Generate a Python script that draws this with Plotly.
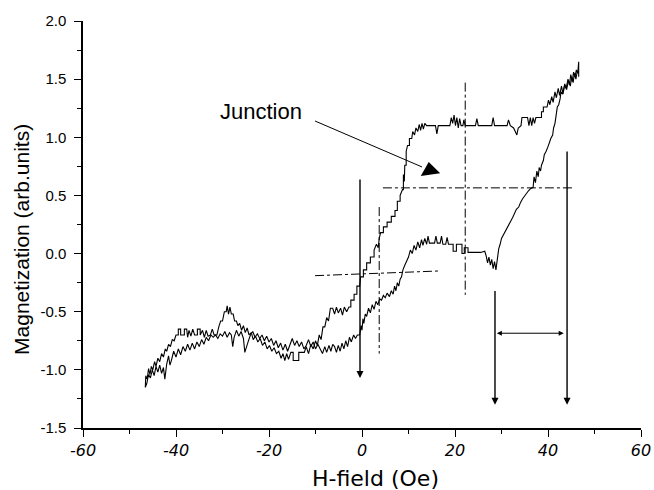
import plotly.graph_objects as go

# ---- ascending branch (field increasing) ----
H_up = [-46.6, -46.5, -46.2, -45.9, -45.6, -45.3, -45.0, -44.6, -44.3, -43.9, -43.5, -43.1, -42.7, -42.3,
        -42.0, -41.6, -41.2, -40.8, -40.4, -40.0, -39.5, -39.5, -39.0, -39.0, -38.2, -38.2, -37.7, -37.5,
        -37.2, -36.8, -36.4, -36.0, -35.4, -35.4, -34.8, -34.8, -34.3, -33.9, -33.5, -33.1, -32.6, -32.2,
        -31.8, -31.2, -30.8, -30.4, -30.0, -29.6, -29.2, -29.0, -28.7, -28.4, -28.1, -27.7, -27.4, -27.0,
        -26.7, -26.3, -25.9, -25.5, -25.1, -24.7, -24.3, -23.8, -23.4, -22.9, -22.4, -21.9, -21.4, -20.9,
        -20.4, -19.9, -19.4, -18.9, -18.4, -17.9, -17.4, -17.0, -16.6, -16.2, -15.8, -15.3, -14.8, -14.8,
        -13.6, -13.6, -12.4, -12.0, -11.5, -11.0, -10.5, -10.0, -9.6, -9.2, -8.8, -8.4, -8.0, -7.6, -7.2,
        -6.8, -6.3, -5.9, -5.5, -5.1, -4.6, -4.2, -3.8, -3.3, -2.8, -2.4, -2.4, -1.7, -1.7, -1.1, -1.1,
        -0.5, -0.3, 0.3, 0.3, 1.0, 1.0, 1.8, 1.8, 2.6, 2.6, 3.1, 3.5, 3.7, 4.0, 4.6, 4.6, 5.4, 5.4, 6.3,
        6.3, 7.1, 7.1, 7.6, 7.6, 8.2, 8.2, 8.7, 8.9, 8.9, 9.1, 9.2, 9.5, 9.5, 9.8, 10.2, 10.2, 10.7, 10.9,
        11.3, 11.6, 12.0, 12.3, 12.6, 12.9, 13.2, 13.5, 13.9, 15.8, 16.1, 16.4, 18.9, 19.2, 19.5, 19.8,
        20.1, 20.4, 20.7, 21.0, 21.3, 21.7, 21.9, 22.2, 24.4, 24.7, 25.0, 27.9, 28.2, 28.5, 31.2, 31.5,
        31.9, 32.6, 33.3, 33.6, 34.2, 34.4, 35.6, 35.9, 36.2, 36.5, 36.8, 37.1, 37.4, 38.6, 38.6, 39.0,
        39.0, 39.8, 40.1, 40.4, 40.8, 41.1, 41.5, 41.8, 42.2, 42.5, 42.9, 43.2, 43.6, 43.9, 44.3, 44.6,
        44.9, 45.2, 45.5, 45.8, 46.1, 46.4, 46.6, 46.6]
M_up = [-1.15, -1.05, -1.08, -0.99, -1.04, -0.97, -1.00, -0.93, -0.97, -0.90, -0.93, -0.86, -0.89, -0.82,
        -0.84, -0.78, -0.80, -0.74, -0.75, -0.70, -0.70, -0.65, -0.65, -0.70, -0.70, -0.65, -0.65, -0.72,
        -0.66, -0.71, -0.65, -0.70, -0.70, -0.65, -0.65, -0.70, -0.66, -0.72, -0.66, -0.71, -0.70, -0.65,
        -0.70, -0.70, -0.63, -0.58, -0.58, -0.50, -0.50, -0.45, -0.52, -0.46, -0.52, -0.52, -0.58, -0.58,
        -0.62, -0.60, -0.66, -0.62, -0.68, -0.64, -0.70, -0.68, -0.74, -0.71, -0.76, -0.73, -0.79, -0.76,
        -0.82, -0.79, -0.84, -0.81, -0.86, -0.84, -0.90, -0.86, -0.92, -0.86, -0.91, -0.85, -0.85, -0.92,
        -0.92, -0.85, -0.85, -0.80, -0.86, -0.78, -0.82, -0.75, -0.79, -0.70, -0.74, -0.63, -0.63, -0.55,
        -0.58, -0.47, -0.47, -0.52, -0.46, -0.51, -0.47, -0.53, -0.46, -0.50, -0.46, -0.46, -0.40, -0.40,
        -0.35, -0.35, -0.28, -0.28, -0.20, -0.20, -0.14, -0.14, -0.08, -0.08, -0.03, -0.03, 0.03, 0.08,
        0.05, 0.13, 0.18, 0.18, 0.23, 0.23, 0.27, 0.27, 0.32, 0.32, 0.37, 0.37, 0.45, 0.45, 0.50, 0.55,
        0.55, 0.68, 0.62, 0.76, 0.76, 0.88, 0.93, 0.93, 0.99, 0.99, 1.05, 1.02, 1.08, 1.05, 1.11, 1.06,
        1.12, 1.07, 1.12, 1.10, 1.10, 1.03, 1.10, 1.10, 1.17, 1.12, 1.19, 1.10, 1.17, 1.08, 1.16, 1.10,
        1.10, 1.15, 1.10, 1.10, 1.16, 1.10, 1.10, 1.17, 1.10, 1.10, 1.15, 1.10, 1.08, 1.02, 1.08, 1.10,
        1.17, 1.17, 1.10, 1.17, 1.10, 1.17, 1.12, 1.17, 1.17, 1.22, 1.22, 1.26, 1.26, 1.32, 1.28, 1.35,
        1.30, 1.39, 1.34, 1.42, 1.36, 1.44, 1.38, 1.46, 1.42, 1.50, 1.45, 1.54, 1.48, 1.56, 1.52, 1.58,
        1.55, 1.65, 1.52]

# ---- descending branch (field decreasing) ----
H_down = [46.6, 46.3, 46.0, 45.7, 45.4, 45.1, 44.8, 44.4, 44.0, 43.6, 43.2, 42.8, 42.6, 42.3, 42.0, 41.8,
          41.5, 41.2, 41.0, 40.6, 40.3, 40.0, 39.6, 39.2, 39.0, 38.6, 38.4, 38.1, 37.9, 37.6, 37.3, 37.0,
          36.8, 36.3, 35.8, 35.4, 35.0, 34.5, 34.1, 33.7, 33.2, 32.8, 32.4, 32.0, 31.5, 31.1, 30.7, 30.3,
          30.0, 29.7, 29.4, 29.2, 29.0, 28.8, 28.5, 28.2, 27.9, 27.6, 27.3, 27.0, 26.7, 26.4, 25.5, 22.8,
          22.8, 22.0, 22.0, 21.5, 21.5, 20.3, 20.3, 19.6, 19.6, 18.6, 18.3, 18.0, 17.4, 17.1, 16.8, 16.2,
          15.9, 15.6, 14.5, 14.2, 13.9, 13.5, 13.1, 12.8, 12.4, 12.0, 11.6, 11.2, 10.8, 10.4, 10.0, 9.6,
          9.2, 8.8, 8.5, 8.2, 7.9, 7.6, 7.3, 7.0, 6.7, 6.3, 5.9, 5.4, 5.0, 4.6, 4.2, 3.8, 3.4, 3.0, 2.6,
          2.2, 1.8, 1.4, 1.0, 0.7, 0.4, 0.2, 0.0, -0.2, -0.5, -1.0, -1.4, -1.8, -2.3, -2.7, -3.1, -3.5,
          -3.9, -4.3, -4.7, -5.1, -5.5, -5.9, -6.3, -6.7, -7.1, -7.6, -8.0, -8.5, -9.0, -9.5, -10.0, -10.5,
          -11.0, -11.5, -12.0, -12.5, -13.0, -13.5, -14.0, -14.5, -15.0, -15.5, -16.0, -16.5, -17.0, -17.5,
          -18.0, -18.5, -19.0, -19.5, -20.0, -20.5, -21.0, -21.5, -22.0, -22.5, -23.0, -23.5, -24.0, -24.5,
          -25.2, -25.5, -26.0, -26.5, -27.0, -27.5, -27.8, -28.1, -28.5, -29.0, -29.5, -30.0, -30.5, -31.0,
          -31.5, -32.0, -32.5, -33.0, -33.5, -34.0, -34.5, -35.0, -35.5, -36.0, -36.5, -37.0, -37.5, -38.0,
          -38.5, -39.0, -39.5, -40.0, -40.5, -41.0, -41.3, -41.6, -42.0, -42.4, -42.7, -43.1, -43.5, -43.9,
          -44.3, -44.7, -45.1, -45.5, -45.9, -46.3, -46.6]
M_down = [1.55, 1.57, 1.50, 1.55, 1.47, 1.52, 1.44, 1.49, 1.41, 1.45, 1.37, 1.39, 1.33, 1.28, 1.26, 1.18,
          1.12, 1.08, 1.02, 0.99, 0.95, 0.92, 0.88, 0.85, 0.80, 0.76, 0.71, 0.74, 0.66, 0.71, 0.61, 0.66,
          0.57, 0.56, 0.54, 0.52, 0.49, 0.47, 0.44, 0.40, 0.38, 0.34, 0.31, 0.28, 0.24, 0.22, 0.18, 0.15,
          0.13, 0.08, 0.04, -0.02, -0.10, -0.14, -0.07, -0.13, -0.05, -0.10, -0.03, -0.08, -0.02, 0.02,
          0.01, 0.01, 0.05, 0.05, 0.00, 0.00, 0.08, 0.08, 0.02, 0.02, 0.08, 0.08, 0.14, 0.08, 0.08, 0.15,
          0.09, 0.09, 0.15, 0.09, 0.09, 0.15, 0.08, 0.13, 0.07, 0.12, 0.05, 0.10, 0.03, 0.07, 0.00, 0.03,
          -0.03, -0.06, -0.10, -0.14, -0.20, -0.22, -0.28, -0.25, -0.32, -0.28, -0.35, -0.32, -0.37, -0.34,
          -0.38, -0.36, -0.40, -0.39, -0.44, -0.41, -0.48, -0.44, -0.51, -0.47, -0.54, -0.52, -0.60, -0.56,
          -0.66, -0.62, -0.70, -0.70, -0.73, -0.70, -0.76, -0.72, -0.80, -0.75, -0.82, -0.77, -0.84, -0.79,
          -0.85, -0.80, -0.78, -0.84, -0.79, -0.85, -0.80, -0.86, -0.82, -0.78, -0.82, -0.76, -0.80, -0.74,
          -0.79, -0.82, -0.76, -0.80, -0.75, -0.79, -0.73, -0.78, -0.84, -0.78, -0.83, -0.77, -0.81, -0.75,
          -0.79, -0.73, -0.76, -0.71, -0.75, -0.70, -0.73, -0.69, -0.72, -0.67, -0.70, -0.76, -0.85, -0.73,
          -0.67, -0.71, -0.66, -0.72, -0.80, -0.70, -0.68, -0.72, -0.67, -0.71, -0.69, -0.73, -0.70, -0.72,
          -0.70, -0.75, -0.72, -0.78, -0.74, -0.80, -0.76, -0.82, -0.77, -0.83, -0.78, -0.84, -0.80, -0.87,
          -0.82, -0.89, -0.84, -0.92, -0.96, -0.88, -0.95, -1.08, -0.98, -1.03, -0.96, -1.02, -0.97, -1.05,
          -1.00, -1.07, -1.04, -1.12, -1.15]

# ---- guide lines ----
# dash-dot guides: (x0, y0, x1, y1)
dashdot_guides = [(3.7, 0.40, 3.7, -0.86),
                  (22.2, 1.47, 22.2, -0.355),
                  (4.5, 0.565, 45.2, 0.565),
                  (-10.1, -0.19, 16.4, -0.15)]
# solid guides with arrow at the lower end: (x, y_top, y_bottom)
arrow_guides = [(-0.43, 0.65, -1.07),
                (28.6, -0.31, -1.30),
                (44.1, 0.89, -1.30)]
# double arrow (x0, x1, y)
double_arrow = (29.0, 43.7, -0.685)

# annotation
junction_text = "Junction"
junction_text_pos = (-21.7, 1.22)
junction_line = ([-10.1, 12.9], [1.14, 0.745])
junction_head = (14.6, 0.715)

x_title = "H-field (Oe)"
y_title = "Magnetization (arb.units)"
x_ticks = [-60, -40, -20, 0, 20, 40, 60]
x_tick_labels = ["-60", "-40", "-20", "0", "20", "40", "60"]
y_ticks = [-1.5, -1.0, -0.5, 0.0, 0.5, 1.0, 1.5, 2.0]
y_tick_labels = ["-1.5", "-1.0", "-0.5", "0.0", "0.5", "1.0", "1.5", "2.0"]

fig = go.Figure()
fig.add_trace(go.Scatter(x=H_up, y=M_up, mode="lines",
                         line=dict(color="black", width=1.1), showlegend=False))
fig.add_trace(go.Scatter(x=H_down, y=M_down, mode="lines",
                         line=dict(color="black", width=1.1), showlegend=False))

for (x0, y0, x1, y1) in dashdot_guides:
    fig.add_trace(go.Scatter(x=[x0, x1], y=[y0, y1], mode="lines",
                             line=dict(color="black", width=1, dash="dashdot"),
                             showlegend=False, hoverinfo="skip"))

for (xg, yt, yb) in arrow_guides:
    fig.add_annotation(x=xg, y=yb, ax=xg, ay=yt, xref="x", yref="y", axref="x", ayref="y",
                       text="", showarrow=True, arrowhead=2, arrowsize=1.0, arrowwidth=1.4,
                       arrowcolor="black")

fig.add_annotation(x=double_arrow[0], y=double_arrow[2], ax=double_arrow[1], ay=double_arrow[2],
                   xref="x", yref="y", axref="x", ayref="y", text="", showarrow=True,
                   arrowhead=2, startarrowhead=2, arrowside="end+start", arrowsize=1.0,
                   startarrowsize=1.0, arrowwidth=1.0, arrowcolor="black")

fig.add_trace(go.Scatter(x=junction_line[0], y=junction_line[1], mode="lines",
                         line=dict(color="black", width=1), showlegend=False, hoverinfo="skip"))
fig.add_trace(go.Scatter(x=[junction_head[0]], y=[junction_head[1]], mode="markers",
                         marker=dict(symbol="triangle-up", size=17, color="black", angle=-8),
                         showlegend=False, hoverinfo="skip"))
fig.add_annotation(x=junction_text_pos[0], y=junction_text_pos[1], xref="x", yref="y",
                   text=junction_text, showarrow=False,
                   font=dict(family="Liberation Sans, Arial", size=22, color="black"))

# axis titles placed as paper annotations
fig.add_annotation(x=0.525, y=-0.125, xref="paper", yref="paper", xanchor="center", yanchor="middle",
                   text=x_title, showarrow=False,
                   font=dict(family="DejaVu Sans", size=22, color="black"))
fig.add_annotation(x=0, y=0.462, xref="paper", yref="paper", xanchor="center", yanchor="middle",
                   xshift=-61, textangle=-90, text=y_title, showarrow=False,
                   font=dict(family="Liberation Sans, Arial", size=21, color="black"))

fig.update_layout(
    width=654, height=490,
    margin=dict(l=83, r=13, t=21, b=62, autoexpand=False),
    plot_bgcolor="white", paper_bgcolor="white",
    xaxis=dict(range=[-60, 60], tickvals=x_ticks, ticktext=x_tick_labels, automargin=False,
               showline=True, linecolor="black", linewidth=1.5, showgrid=False, zeroline=False,
               ticks="outside", ticklen=7, tickwidth=1.3, tickcolor="black",
               minor=dict(dtick=10, tick0=0, ticks="outside", ticklen=4, tickwidth=1.2, tickcolor="black"),
               tickfont=dict(family="DejaVu Sans", size=16, color="black", style="italic")),
    yaxis=dict(range=[-1.5, 2.0], tickvals=y_ticks, ticktext=y_tick_labels, automargin=False,
               showline=True, linecolor="black", linewidth=1.5, showgrid=False, zeroline=False,
               ticks="outside", ticklen=7, tickwidth=1.3, tickcolor="black",
               minor=dict(dtick=0.25, tick0=0, ticks="outside", ticklen=4, tickwidth=1.2, tickcolor="black"),
               tickfont=dict(family="Liberation Sans, Arial", size=15, color="black"),
               ticklabelstandoff=5),
)

# remove the default 8px page margin so the 654x490 figure fills the window exactly
fig.write_html("out.html", config={"displayModeBar": False},
               post_script="document.body.style.margin='0';document.body.style.overflow='hidden';")
